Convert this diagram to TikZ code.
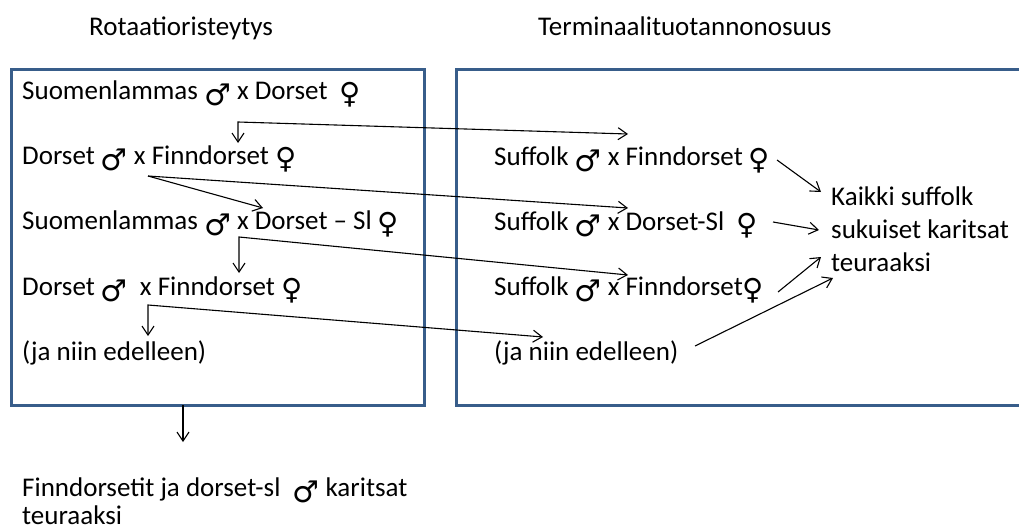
\documentclass[tikz,border=0pt]{standalone}
\usepackage{fontspec}
\setmainfont{Carlito}
\newfontfamily\symfont{DejaVu Sans}
\usetikzlibrary{arrows.meta}
\definecolor{boxblue}{RGB}{56,93,138}
% sex symbols set in DejaVu Sans
\newcommand{\malesign}{\raisebox{-6pt}{\symfont\fontsize{30}{30}\selectfont ♂}}
\newcommand{\femsign}{\raisebox{-4pt}{\symfont\fontsize{29}{29}\selectfont ♀}}
\tikzset{
  txt/.style={anchor=base west, inner sep=0pt, font=\fontsize{27}{33}\selectfont},
  frame/.style={draw=boxblue, line width=3pt},
  arr/.style={draw=black, line width=1.1pt, -{Straight Barb[length=9pt,width=12pt,line width=1.1pt]}},
  arrboth/.style={draw=black, line width=1.1pt, {Straight Barb[length=9pt,width=12pt,line width=1.1pt]}-{Straight Barb[length=9pt,width=12pt,line width=1.1pt]}}
}
\begin{document}
\begin{tikzpicture}[x=1pt,y=-1pt]
\useasboundingbox (0,0) rectangle (1019,530);

% frames
\draw[frame] (11,69) rectangle (424,405);
\draw[frame] (1022,69) -- (456,69) -- (456,405) -- (1022,405);

% headings
\node[txt] (h1) at (89,35) {Rotaatioristeytys};
\node[txt] (h2) at (538,35) {Terminaalituotannonosuus};

% rotation crossing
\node[txt] (r1) at (22,99)  {Suomenlammas \malesign{} x Dorset\hspace{6pt} \femsign};
\node[txt] (r2) at (22,164) {Dorset \malesign{} x Finndorset \femsign};
\node[txt] (r3) at (22,229) {Suomenlammas \malesign{} x Dorset -- Sl \femsign};
\node[txt] (r4) at (22,295) {Dorset \malesign{}\hspace{6pt} x Finndorset \femsign};
\node[txt] (r5) at (22,360) {(ja niin edelleen)};

% terminal crossing
\node[txt] (t1) at (494,165) {Suffolk \malesign{} x Finndorset \femsign};
\node[txt] (t2) at (494,230) {Suffolk \malesign{} x Dorset-Sl\hspace{6pt} \femsign};
\node[txt] (t3) at (494,295) {Suffolk \malesign{} x Finndorset\femsign};
\node[txt] (t4) at (494,360) {(ja niin edelleen)};

% result block; the base anchor sits on its last line
\node[txt, align=left] (res) at (831,271)
  {Kaikki suffolk\\sukuiset karitsat\\teuraaksi};

\node[txt] (b1) at (22,496) {Finndorsetit ja dorset-sl\hspace{6pt} \malesign{} karitsat};
\node[txt] (b2) at (22,524) {teuraaksi};

% connector end points
\coordinate (c1) at (238,122);
\coordinate (c1d) at (238,143);
\coordinate (c1r) at (628,134);
\coordinate (s2) at (148,176);
\coordinate (e2) at (263,208);
\coordinate (e3) at (628,208);
\coordinate (c4) at (239,237);
\coordinate (c4d) at (239,273);
\coordinate (c4r) at (628,275);
\coordinate (c5) at (148,305);
\coordinate (c5d) at (148,336);
\coordinate (c5r) at (543,337);
\coordinate (f1) at (777,160);
\coordinate (g1) at (821,192);
\coordinate (f2) at (773,222);
\coordinate (g2) at (819,230);
\coordinate (f3) at (778,292);
\coordinate (g3) at (821,257);
\coordinate (f4) at (695,346);
\coordinate (g4) at (833,278);
\coordinate (d0) at (183,405);
\coordinate (d1) at (183,442);

% connectors
\draw[arrboth] (c1d) -- (c1) -- (c1r);
\draw[arr] (s2) -- (e2);
\draw[arr] (s2) -- (e3);
\draw[arrboth] (c4d) -- (c4) -- (c4r);
\draw[arrboth] (c5d) -- (c5) -- (c5r);
\draw[arr] (f1) -- (g1);
\draw[arr] (f2) -- (g2);
\draw[arr] (f3) -- (g3);
\draw[arr] (f4) -- (g4);
\draw[arr] (d0) -- (d1);
\end{tikzpicture}
\end{document}
